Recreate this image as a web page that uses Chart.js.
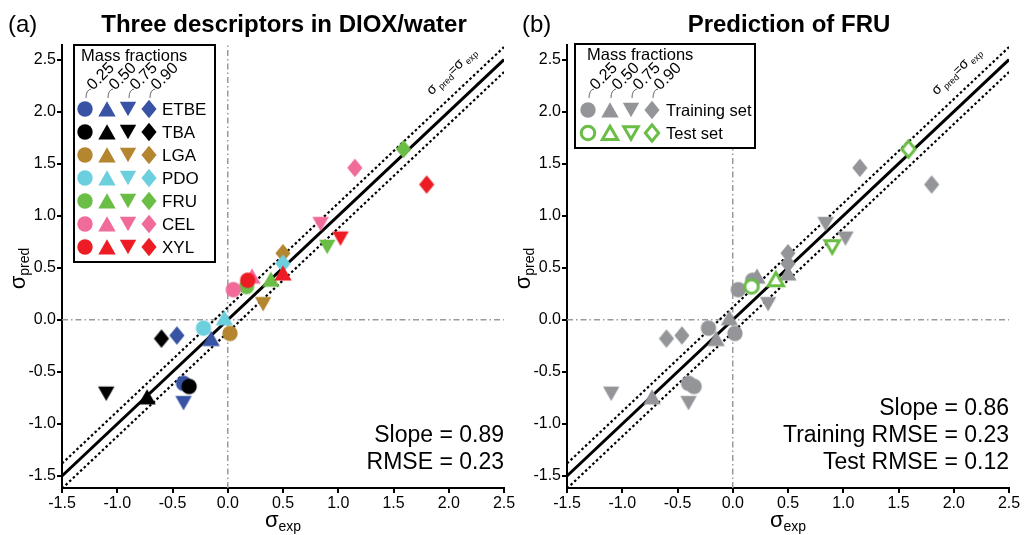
<!DOCTYPE html>
<html>
<head>
<meta charset="utf-8">
<title>Three descriptors in DIOX/water</title>
<script src="https://cdn.jsdelivr.net/npm/chart.js@4.4.1/dist/chart.umd.min.js"></script>
<style>
    html, body { margin: 0; padding: 0; background: #fff; }
    #wrap { position: relative; width: 1024px; height: 535px; overflow: hidden; }
    #wrap canvas { position: absolute; top: 0; }
    #chartA { left: 0; }
    #chartB { left: 512px; }
</style>
</head>
<body>
<div id="wrap">
    <canvas id="chartA" width="530" height="535"></canvas>
    <canvas id="chartB" width="512" height="535"></canvas>
</div>
<script>
// ---- data ---------------------------------------------------------------
const solutes = ['ETBE', 'TBA', 'LGA', 'PDO', 'FRU', 'CEL', 'XYL'];
const massFractions = ['0.25', '0.50', '0.75', '0.90'];
const testSolute = 'FRU';

const xTicks = [-1.5, -1.0, -0.5, 0.0, 0.5, 1.0, 1.5, 2.0, 2.5];
const yTicks = [-1.5, -1.0, -0.5, 0.0, 0.5, 1.0, 1.5, 2.0, 2.5];

// sigma_exp / sigma_pred per solute, ordered by mass fraction (null = not visible)
const expETBE  = [-0.40, -0.15, -0.40, -0.46];
const predETBE = [-0.61, -0.18, -0.80, -0.15];
const expTBA   = [-0.35, -0.73, -1.10, -0.60];
const predTBA  = [-0.64, -0.74, -0.71, -0.18];
const expLGA   = [0.02, null, 0.32, 0.50];
const predLGA  = [-0.13, null, 0.15, 0.64];
const expPDO   = [-0.22, -0.03, null, 0.50];
const predPDO  = [-0.08, 0.02, null, 0.54];
const expFRU   = [0.17, 0.39, 0.90, 1.59];
const predFRU  = [0.32, 0.39, 0.70, 1.64];
const expCEL   = [0.05, 0.22, 0.84, 1.15];
const predCEL  = [0.29, 0.42, 0.92, 1.46];
const expXYL   = [0.18, 0.50, 1.02, 1.80];
const predXYL  = [0.38, 0.45, 0.78, 1.30];

// parity line and its band
const parityX = [-1.5, 2.5];
const bandOffset = 0.12;

const statsA = ['Slope = 0.89', 'RMSE = 0.23'];
const statsB = ['Slope = 0.86', 'Training RMSE = 0.23', 'Test RMSE = 0.12'];

(function() {
    'use strict';

    const FONT = '"Liberation Sans", Arial, Helvetica, sans-serif';
    const COLORS = ['#3953a4', '#000000', '#b3862f', '#6ccfdd', '#6abd45', '#f06a9a', '#ed1c24'];
    const GRAY = '#939598';
    const GREEN = '#6abd45';
    const SHAPES = ['circle', 'up', 'down', 'diamond'];
    const Y_MIN = -1.615, Y_MAX = 2.64;

    const sigmaExp = [expETBE, expTBA, expLGA, expPDO, expFRU, expCEL, expXYL];
    const sigmaPred = [predETBE, predTBA, predLGA, predPDO, predFRU, predCEL, predXYL];

    const markerCache = {};

    function marker(shape, color, hollow) {
        const key = shape + color + (hollow ? 'h' : 'f');
        if (markerCache[key]) return markerCache[key];
        const c = document.createElement('canvas');
        c.width = 24; c.height = 24;
        const g = c.getContext('2d');
        const m = 12;
        const k = hollow ? 0.88 : 1;
        g.beginPath();
        if (shape === 'circle') {
            g.arc(m, m, 7.7 * k, 0, Math.PI * 2);
        } else if (shape === 'up') {
            g.moveTo(m, m - 7.7 * k);
            g.lineTo(m + 8.7 * k, m + 7.5 * k);
            g.lineTo(m - 8.7 * k, m + 7.5 * k);
            g.closePath();
        } else if (shape === 'down') {
            g.moveTo(m - 8.2 * k, m - 7.2 * k);
            g.lineTo(m + 8.2 * k, m - 7.2 * k);
            g.lineTo(m, m + 7.2 * k);
            g.closePath();
        } else {
            g.moveTo(m, m - 9.2 * k);
            g.lineTo(m + 7.6 * k, m);
            g.lineTo(m, m + 9.2 * k);
            g.lineTo(m - 7.6 * k, m);
            g.closePath();
        }
        if (hollow) {
            g.fillStyle = '#fff';
            g.fill();
            g.lineWidth = 3;
            g.strokeStyle = color;
            g.stroke();
        } else {
            g.fillStyle = color;
            g.fill();
        }
        markerCache[key] = c;
        return c;
    }

    function pointsFor(i) {
        const pts = [];
        const shapes = [];
        sigmaExp[i].forEach((x, j) => {
            if (x === null) return;
            pts.push({ x: x, y: sigmaPred[i][j] });
            shapes.push(SHAPES[j]);
        });
        return { pts, shapes };
    }

    function refDatasets() {
        return [
            {
                data: [{ x: 0, y: Y_MIN }, { x: 0, y: Y_MAX }],
                showLine: true, pointRadius: 0, borderColor: '#9a9a9a', borderWidth: 1.5,
                borderDash: [6, 3, 1.5, 3], order: 40
            },
            {
                data: [{ x: xTicks[0], y: 0 }, { x: xTicks[xTicks.length - 1], y: 0 }],
                showLine: true, pointRadius: 0, borderColor: '#9a9a9a', borderWidth: 1.5,
                borderDash: [6, 3, 1.5, 3], order: 40
            },
            {
                data: parityX.map(x => ({ x: x, y: x + bandOffset })),
                showLine: true, pointRadius: 0, borderColor: '#000', borderWidth: 2.2,
                borderDash: [2.5, 2.5], order: 30
            },
            {
                data: parityX.map(x => ({ x: x, y: x - bandOffset })),
                showLine: true, pointRadius: 0, borderColor: '#000', borderWidth: 2.2,
                borderDash: [2.5, 2.5], order: 30
            },
            {
                data: parityX.map(x => ({ x: x, y: x })),
                showLine: true, pointRadius: 0, borderColor: '#000', borderWidth: 3, order: 30
            }
        ];
    }

    function drawRich(ctx, parts, x, y, align) {
        let total = 0;
        parts.forEach(p => {
            ctx.font = (p.bold ? 'bold ' : '') + p.size + 'px ' + FONT;
            p.w = ctx.measureText(p.t).width;
            total += p.w;
        });
        let cx = align === 'center' ? x - total / 2 : (align === 'right' ? x - total : x);
        ctx.textAlign = 'left';
        ctx.textBaseline = 'alphabetic';
        parts.forEach(p => {
            ctx.font = (p.bold ? 'bold ' : '') + p.size + 'px ' + FONT;
            ctx.fillText(p.t, cx, y + (p.dy || 0));
            cx += p.w;
        });
    }

    function drawFractionHeads(ctx, cols, hookY) {
        ctx.strokeStyle = '#444';
        ctx.lineWidth = 0.8;
        ctx.fillStyle = '#000';
        cols.forEach((cx, j) => {
            ctx.beginPath();
            ctx.moveTo(cx + 1, hookY + 10);
            ctx.quadraticCurveTo(cx + 1, hookY + 2, cx + 6, hookY + 1);
            ctx.stroke();
            ctx.save();
            ctx.translate(cx + 5, hookY + 1);
            ctx.rotate(-Math.PI / 4);
            ctx.font = '16px ' + FONT;
            ctx.textAlign = 'left';
            ctx.textBaseline = 'middle';
            ctx.fillText(massFractions[j], 1, -1);
            ctx.restore();
        });
    }

    function drawBox(ctx, x, y, w, h) {
        ctx.fillStyle = '#fff';
        ctx.fillRect(x, y, w, h);
        ctx.strokeStyle = '#000';
        ctx.lineWidth = 2;
        ctx.strokeRect(x, y, w, h);
    }

    function legendA(ctx) {
        drawBox(ctx, 74, 45, 141, 217);
        ctx.fillStyle = '#000';
        drawRich(ctx, [{ t: 'Mass fractions', size: 16.5 }], 81, 61, 'left');
        const cols = [85, 107, 128, 149];
        drawFractionHeads(ctx, cols, 88);
        solutes.forEach((name, i) => {
            const ry = 109 + 23 * i;
            cols.forEach((cx, j) => {
                const img = marker(SHAPES[j], COLORS[i], false);
                ctx.drawImage(img, cx - 12, ry - 12);
            });
            ctx.fillStyle = '#000';
            ctx.font = '17px ' + FONT;
            ctx.textAlign = 'left';
            ctx.textBaseline = 'middle';
            ctx.fillText(name, 162, ry + 1);
        });
    }

    function legendB(ctx) {
        drawBox(ctx, 63, 44, 180, 104);
        ctx.fillStyle = '#000';
        drawRich(ctx, [{ t: 'Mass fractions', size: 16.5 }], 75, 60, 'left');
        const cols = [76, 98, 119, 140];
        drawFractionHeads(ctx, cols, 88);
        const rows = [
            { y: 110, color: GRAY, hollow: false, label: 'Training set' },
            { y: 133, color: GREEN, hollow: true, label: 'Test set' }
        ];
        rows.forEach(r => {
            cols.forEach((cx, j) => {
                ctx.drawImage(marker(SHAPES[j], r.color, r.hollow), cx - 12, r.y - 12);
            });
            ctx.fillStyle = '#000';
            ctx.font = '16.5px ' + FONT;
            ctx.textAlign = 'left';
            ctx.textBaseline = 'middle';
            ctx.fillText(r.label, 154, r.y + 1);
        });
    }

    function makeDecor(cfg) {
        return {
            id: 'decor' + cfg.letter,
            afterDatasetsDraw(chart) {
                const ctx = chart.ctx;
                ctx.save();
                cfg.legend(ctx);
                ctx.restore();
            },
            afterDraw(chart) {
                const ctx = chart.ctx;
                const ca = chart.chartArea;
                const xs = chart.scales.x, ys = chart.scales.y;
                const midX = (ca.left + ca.right) / 2;
                ctx.save();
                ctx.fillStyle = '#000';

                // panel letter and title
                drawRich(ctx, [{ t: cfg.letter, size: 24 }], cfg.letterX, 32, 'left');
                drawRich(ctx, [{ t: cfg.title, size: 24, bold: true }], midX + 1, 32, 'center');

                // axis titles
                drawRich(ctx, [{ t: 'σ', size: 22 }, { t: 'exp', size: 14, dy: 4 }], midX, 527, 'center');
                ctx.save();
                ctx.translate(ca.left - 37, (ca.top + ca.bottom) / 2 + 2);
                ctx.rotate(-Math.PI / 2);
                drawRich(ctx, [{ t: 'σ', size: 22 }, { t: 'pred', size: 14, dy: 4 }], 0, 0, 'center');
                ctx.restore();

                // parity label along the diagonal
                const ax = xs.getPixelForValue(2.05), ay = ys.getPixelForValue(2.36);
                const ang = Math.atan2(ys.getPixelForValue(1) - ys.getPixelForValue(0),
                                       xs.getPixelForValue(1) - xs.getPixelForValue(0));
                ctx.save();
                ctx.translate(ax, ay);
                ctx.rotate(ang);
                drawRich(ctx, [
                    { t: 'σ', size: 14 }, { t: ' pred', size: 9, dy: 3 },
                    { t: '=', size: 13 }, { t: 'σ', size: 14 }, { t: ' exp', size: 9, dy: 3 }
                ], 0, 0, 'center');
                ctx.restore();

                // statistics
                const n = cfg.stats.length;
                cfg.stats.forEach((s, i) => {
                    drawRich(ctx, [{ t: s, size: 23 }], ca.right, ca.bottom - 19 - 27 * (n - 1 - i), 'right');
                });
                ctx.restore();
            }
        };
    }

    function scaleOptions(yWidth) {
        const axisCommon = {
            type: 'linear',
            border: { display: true, color: '#000', width: 2 },
            grid: { drawOnChartArea: false, drawTicks: true, tickLength: 5, color: '#000', lineWidth: 2 },
            ticks: {
                color: '#000', font: { family: FONT, size: 16 }, padding: 1,
                autoSkip: false, maxRotation: 0, callback: v => v.toFixed(1)
            }
        };
        return {
            x: Object.assign({}, axisCommon, {
                min: xTicks[0], max: xTicks[xTicks.length - 1],
                afterBuildTicks: s => { s.ticks = xTicks.map(v => ({ value: v })); },
                afterFit: s => { s.height = 47; }
            }),
            y: Object.assign({}, axisCommon, {
                min: Y_MIN, max: Y_MAX,
                afterBuildTicks: s => { s.ticks = yTicks.map(v => ({ value: v })); },
                afterFit: s => { s.width = yWidth; }
            })
        };
    }

    function baseOptions(yWidth, padRight) {
        return {
            responsive: false,
            animation: false,
            events: [],
            layout: { padding: { top: 45, right: padRight, left: 0, bottom: 0 } },
            plugins: { legend: { display: false }, tooltip: { enabled: false } },
            scales: scaleOptions(yWidth)
        };
    }

    function initChartA() {
        const datasets = refDatasets();
        solutes.forEach((name, i) => {
            const p = pointsFor(i);
            datasets.push({
                label: name,
                data: p.pts,
                pointStyle: p.shapes.map(s => marker(s, COLORS[i], false)),
                pointRadius: 8,
                order: solutes.length - i
            });
        });
        return new Chart(document.getElementById('chartA'), {
            type: 'scatter',
            data: { datasets },
            options: baseOptions(62, 26),
            plugins: [makeDecor({
                letter: '(a)', letterX: 8, title: 'Three descriptors in DIOX/water',
                stats: statsA, legend: legendA
            })]
        });
    }

    function initChartB() {
        const datasets = refDatasets();
        solutes.forEach((name, i) => {
            const p = pointsFor(i);
            const isTest = name === testSolute;
            datasets.push({
                label: isTest ? 'Test set' : 'Training set',
                data: p.pts,
                pointStyle: p.shapes.map(s => marker(s, isTest ? GREEN : GRAY, isTest)),
                pointRadius: 8,
                order: isTest ? 0 : solutes.length - i
            });
        });
        return new Chart(document.getElementById('chartB'), {
            type: 'scatter',
            data: { datasets },
            options: baseOptions(55, 15),
            plugins: [makeDecor({
                letter: '(b)', letterX: 10, title: 'Prediction of FRU',
                stats: statsB, legend: legendB
            })]
        });
    }

    initChartA();
    initChartB();
})();
</script>
</body>
</html>
